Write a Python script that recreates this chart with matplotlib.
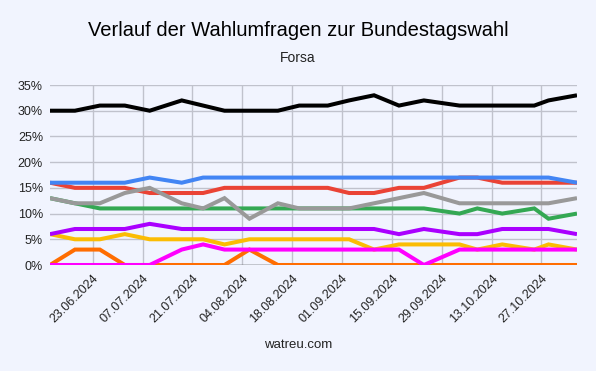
import matplotlib
matplotlib.use("Agg")
import matplotlib.pyplot as plt
import matplotlib.dates as mdates
import pandas as pd

# Forsa poll dates (read off the x axis, not exactly weekly)
dates = pd.to_datetime([
    "2024-06-11", "2024-06-18", "2024-06-25", "2024-07-02", "2024-07-09",
    "2024-07-18", "2024-07-24", "2024-07-30", "2024-08-06", "2024-08-14",
    "2024-08-20", "2024-08-28", "2024-09-03", "2024-09-10", "2024-09-17",
    "2024-09-24", "2024-10-04", "2024-10-09", "2024-10-16", "2024-10-25",
    "2024-10-29", "2024-11-06",
])

union = [30, 30, 31, 31, 30, 32, 31, 30, 30, 30, 31, 31, 32, 33, 31, 32, 31, 31, 31, 31, 32, 33]
afd = [16, 16, 16, 16, 17, 16, 17, 17, 17, 17, 17, 17, 17, 17, 17, 17, 17, 17, 17, 17, 17, 16]
spd = [16, 15, 15, 15, 14, 14, 14, 15, 15, 15, 15, 15, 14, 14, 15, 15, 17, 17, 16, 16, 16, 16]
gruene = [13, 12, 11, 11, 11, 11, 11, 11, 11, 11, 11, 11, 11, 11, 11, 11, 10, 11, 10, 11, 9, 10]
fdp = [6, 5, 5, 6, 5, 5, 5, 4, 5, 5, 5, 5, 5, 3, 4, 4, 4, 3, 4, 3, 4, 3]
bsw = [6, 7, 7, 7, 8, 7, 7, 7, 7, 7, 7, 7, 7, 7, 6, 7, 6, 6, 7, 7, 7, 6]
fw = [0, 3, 3, 0, 0, 0, 0, 0, 3, 0, 0, 0, 0, 0, 0, 0, 0, 0, 0, 0, 0, 0]
linke = [0, 0, 0, 0, 0, 3, 4, 3, 3, 3, 3, 3, 3, 3, 3, 0, 3, 3, 3, 3, 3, 3]
sonstige = [13, 12, 12, 14, 15, 12, 11, 13, 9, 12, 11, 11, 11, 12, 13, 14, 12, 12, 12, 12, 12, 13]

tick_dates = pd.date_range("2024-06-23", "2024-10-27", freq="14D")

series = [
    (union, "#000000"),
    (spd, "#ea4335"),
    (afd, "#4285f4"),
    (gruene, "#34a853"),
    (fdp, "#fbbc04"),
    (bsw, "#aa00ff"),
    (fw, "#ff6d01"),
    (linke, "#ff00ff"),
    (sonstige, "#999999"),
]

bg = "#f1f4fe"
plt.rcParams["font.family"] = ["Liberation Sans", "DejaVu Sans"]

fig = plt.figure(figsize=(5.96, 3.71), dpi=100, facecolor=bg)
ax = fig.add_axes([50 / 596, 1 - 265 / 371, 527 / 596, 180 / 371])
ax.set_facecolor(bg)

ax.axhline(0, color="#333333", lw=1, zorder=1)
for vals, col in series:
    ax.plot(dates, vals, color=col, lw=2.9, solid_joinstyle="miter",
            solid_capstyle="butt", zorder=2)

ax.set_xlim(dates[0], dates[-1])
ax.set_ylim(0, 35)
ax.set_yticks(range(0, 36, 5))
ax.set_yticklabels([f"{v}%" for v in range(0, 36, 5)])
ax.set_xticks(tick_dates)
ax.xaxis.set_major_formatter(mdates.DateFormatter("%d.%m.%Y"))
plt.setp(ax.get_xticklabels(), rotation=45, ha="right", rotation_mode="anchor")

ax.grid(True, color="#c0c2cc", lw=1, zorder=0)
ax.set_axisbelow(True)
for s in ax.spines.values():
    s.set_visible(False)
ax.tick_params(length=0, labelsize=9, colors="#222222", pad=5)

fig.text(0.5, 1 - 30 / 371, "Verlauf der Wahlumfragen zur Bundestagswahl",
         ha="center", va="center", fontsize=14.5, color="#000000")
fig.text(0.5, 1 - 58 / 371, "Forsa", ha="center", va="center",
         fontsize=10, color="#222222")
fig.text(0.5, 1 - 345 / 371, "watreu.com", ha="center", va="center",
         fontsize=9.5, color="#222222")

fig.savefig("out.png", dpi=100, facecolor=bg)
